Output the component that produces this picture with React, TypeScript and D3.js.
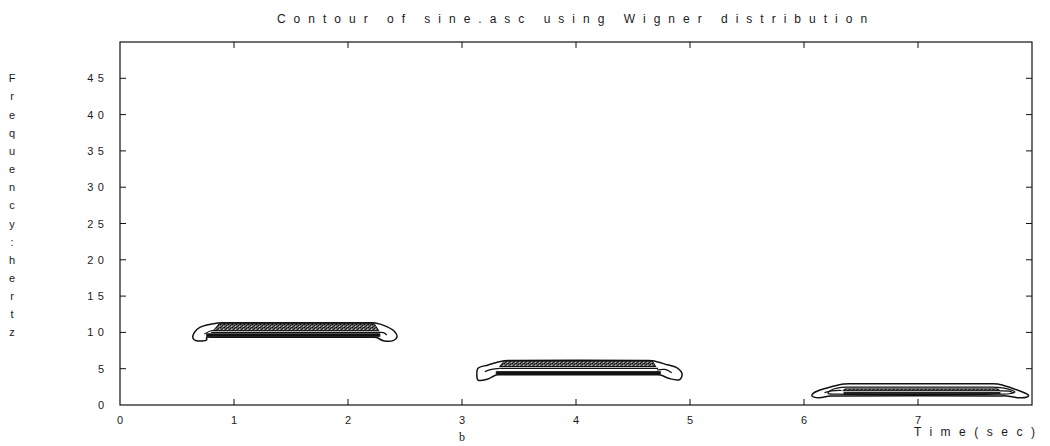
import React from "react";
import * as d3 from "d3";

type Pt = [number, number];

const xTicks = [0, 1, 2, 3, 4, 5, 6, 7];
const yTicks = [0, 5, 10, 15, 20, 25, 30, 35, 40, 45];
const xDomain: Pt = [0, 8];
const yDomain: Pt = [0, 50];
const titleText = "Contour of sine.asc using Wigner distribution";
const yLabelText = "Frequency:hertz";
const xLabelText = "Time(sec)";
const panelLetter = "b";

// ---- tone 1 (~10 Hz) contours, [time s, freq Hz]
const outer1: Pt[] = [[0.86, 11.3], [0.95, 11.32], [2.15, 11.32], [2.24, 11.3], [2.34, 10.8], [2.41, 10.1], [2.43, 9.4], [2.4, 8.9], [2.31, 8.85], [2.25, 9.3], [2.2, 9.32], [0.82, 9.32], [0.76, 9.3], [0.76, 8.95], [0.67, 8.86], [0.64, 9.2], [0.65, 9.95], [0.7, 10.7]];
const band1: Pt[] = [[0.87, 11.2], [2.23, 11.2], [2.27, 10.25], [0.82, 10.25]];
const edge1: Pt[] = [[0.8, 10.0], [2.28, 10.0]];
const ridge1: Pt[] = [[0.76, 9.82], [2.28, 9.82], [2.28, 9.42], [0.76, 9.42]];
const tail1L: Pt[] = [[0.74, 9.78], [0.8, 10.23], [0.86, 10.33]];
const tail1R: Pt[] = [[2.25, 9.96], [2.31, 9.96], [2.34, 9.64]];

// ---- tone 2 (~5 Hz)
const outer2: Pt[] = [[3.37, 6.1], [3.45, 6.13], [4.6, 6.13], [4.67, 6.1], [4.8, 5.55], [4.88, 5.17], [4.93, 4.31], [4.91, 3.51], [4.82, 3.64], [4.74, 4.13], [4.68, 4.15], [3.36, 4.15], [3.3, 4.13], [3.22, 3.54], [3.14, 3.44], [3.13, 4.13], [3.14, 5.05], [3.23, 5.51]];
const band2: Pt[] = [[3.37, 6.05], [4.67, 6.05], [4.7, 5.3], [3.33, 5.3]];
const edge2: Pt[] = [[3.33, 5.05], [4.72, 5.05]];
const ridge2: Pt[] = [[3.3, 4.62], [4.74, 4.62], [4.74, 4.26], [3.3, 4.26]];
const tail2L: Pt[] = [[3.2, 4.59], [3.26, 4.9], [3.33, 5.05]];
const tail2R: Pt[] = [[4.71, 4.82], [4.78, 4.9], [4.84, 4.45]];

// ---- tone 3 (~2 Hz)
const outer3: Pt[] = [[6.35, 2.89], [6.45, 2.92], [7.6, 2.92], [7.7, 2.89], [7.82, 2.34], [7.91, 1.83], [7.97, 1.33], [7.95, 1.06], [7.87, 1.01], [7.78, 1.24], [7.7, 1.25], [6.3, 1.25], [6.23, 1.24], [6.13, 1.0], [6.07, 1.24], [6.08, 1.6], [6.14, 2.07], [6.24, 2.52]];
const inner3: Pt[] = [[6.33, 2.43], [6.42, 2.45], [7.6, 2.45], [7.7, 2.43], [7.8, 2.15], [7.85, 1.8], [7.8, 1.55], [7.7, 1.5], [6.3, 1.5], [6.21, 1.6], [6.22, 1.85], [6.26, 2.2]];
const band3: Pt[] = [[6.36, 2.22], [7.7, 2.22], [7.72, 1.97], [6.34, 1.97]];
const ridge3: Pt[] = [[6.35, 1.74], [7.72, 1.74], [7.72, 1.55], [6.35, 1.55]];
const tail3L: Pt[] = [[6.18, 1.7], [6.24, 1.95], [6.33, 2.0]];
const tail3R: Pt[] = [[7.72, 1.95], [7.8, 1.9], [7.84, 1.65]];

const outerContours = [outer1, outer2, outer3];
const innerContours = [inner3];
const bands = [band1, band2, band3];
const edges = [edge1, edge2];
const ridges = [ridge1, ridge2, ridge3];
const tails = [tail1L, tail1R, tail2L, tail2R, tail3L, tail3R];

const W = 1050;
const H = 446;

export default function App() {
  const x = d3.scaleLinear().domain(xDomain).range([120, 1032]);
  const y = d3.scaleLinear().domain(yDomain).range([405, 42]);
  const smoothClosed = d3.line<Pt>().x((d) => x(d[0])).y((d) => y(d[1])).curve(d3.curveCatmullRomClosed.alpha(0.5));
  const smoothOpen = d3.line<Pt>().x((d) => x(d[0])).y((d) => y(d[1])).curve(d3.curveCatmullRom.alpha(0.5));
  const poly = d3.line<Pt>().x((d) => x(d[0])).y((d) => y(d[1])).curve(d3.curveLinearClosed);
  const straight = d3.line<Pt>().x((d) => x(d[0])).y((d) => y(d[1]));

  const x0 = x(xDomain[0]);
  const x1 = x(xDomain[1]);
  const y0 = y(yDomain[0]);
  const y1 = y(yDomain[1]);
  const font = "'Liberation Sans', Arial, sans-serif";
  const tick = 6;
  const ls = 4.5;
  const ink = "#1a1a1a";

  const yLetters = yLabelText.split("");
  const yStep = (y(10) - y(45)) / (yLetters.length - 1);

  return (
    <svg width={W} height={H} style={{ position: "fixed", left: 0, top: 0, background: "#fff" }} fontFamily={font}>
      <defs>
        <pattern id="stip" width="4" height="3" patternUnits="userSpaceOnUse">
          <rect width="4" height="3" fill="#6a6a6a" />
          <rect x="0" y="0" width="1" height="1" fill="#000" />
          <rect x="2" y="1" width="1" height="1" fill="#111" />
          <rect x="1" y="2" width="1" height="1" fill="#222" />
          <rect x="3" y="0" width="1" height="1" fill="#333" />
          <rect x="3" y="2" width="1" height="1" fill="#bbb" />
        </pattern>
      </defs>
      <rect width={W} height={H} fill="#fff" />

      {/* title */}
      <text x={(x0 + x1) / 2} y={23} textAnchor="middle" fontSize={12} letterSpacing={8} fill={ink}>
        {titleText}
      </text>

      {/* frame */}
      <rect x={x0} y={y1} width={x1 - x0} height={y0 - y1} fill="none" stroke="#111" strokeWidth={1.2} />

      {/* ticks */}
      {yTicks.filter((v) => v > yDomain[0]).map((v) => (
        <g key={"yt" + v} stroke="#111" strokeWidth={1}>
          <line x1={x0} x2={x0 + tick} y1={y(v)} y2={y(v)} />
          <line x1={x1} x2={x1 - tick} y1={y(v)} y2={y(v)} />
        </g>
      ))}
      {xTicks.filter((v) => v > xDomain[0]).map((v) => (
        <g key={"xt" + v} stroke="#111" strokeWidth={1}>
          <line x1={x(v)} x2={x(v)} y1={y0} y2={y0 - tick} />
          <line x1={x(v)} x2={x(v)} y1={y1} y2={y1 + tick} />
        </g>
      ))}

      {/* tick labels */}
      {yTicks.map((v) => (
        <text key={"yl" + v} x={104 + ls} y={y(v) + 4} textAnchor="end" fontSize={11} letterSpacing={ls} fill={ink}>
          {String(v)}
        </text>
      ))}
      {xTicks.map((v) => (
        <text key={"xl" + v} x={x(v)} y={424} textAnchor="middle" fontSize={11} fill={ink}>
          {String(v)}
        </text>
      ))}

      {/* axis labels */}
      {yLetters.map((c, i) => (
        <text key={"yc" + i} x={12} y={y(45) + 4 + i * yStep} textAnchor="middle" fontSize={11} fill={ink}>
          {c}
        </text>
      ))}
      <text x={914} y={436} fontSize={12} letterSpacing={8.5} fill={ink}>
        {xLabelText}
      </text>
      <text x={462} y={441} textAnchor="middle" fontSize={12} fontFamily="'Liberation Serif', 'Times New Roman', serif" fill={ink}>
        {panelLetter}
      </text>

      {/* contours */}
      <g fill="none" stroke="#111">
        {outerContours.map((c, i) => (
          <path key={"oc" + i} d={smoothClosed(c) || ""} strokeWidth={1.5} />
        ))}
        {innerContours.map((c, i) => (
          <path key={"ic" + i} d={smoothClosed(c) || ""} strokeWidth={1.2} />
        ))}
        {bands.map((c, i) => (
          <path key={"bd" + i} d={poly(c) || ""} fill="url(#stip)" strokeWidth={1} />
        ))}
        {edges.map((c, i) => (
          <path key={"ed" + i} d={straight(c) || ""} strokeWidth={1.1} />
        ))}
        {ridges.map((c, i) => (
          <path key={"rd" + i} d={poly(c) || ""} fill="#111" strokeWidth={0.8} />
        ))}
        {tails.map((c, i) => (
          <path key={"tl" + i} d={smoothOpen(c) || ""} strokeWidth={1.2} />
        ))}
      </g>
    </svg>
  );
}
